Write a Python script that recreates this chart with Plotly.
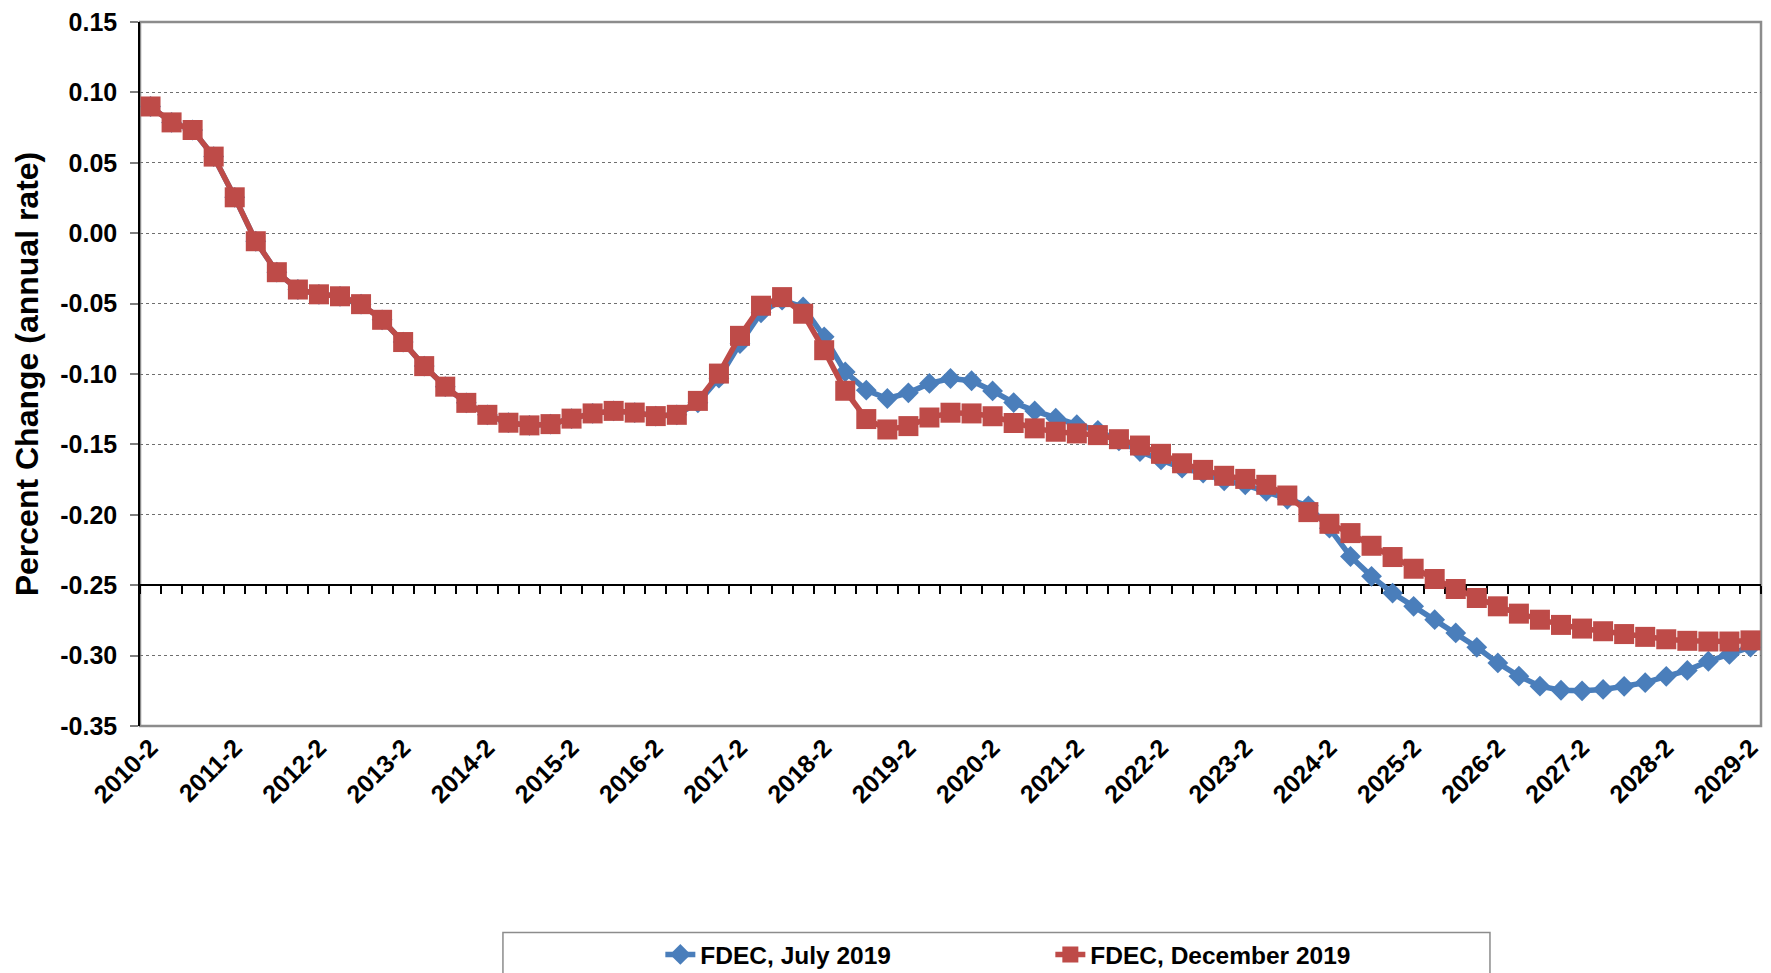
import plotly.graph_objects as go

# Quarterly categories 2010-2 ... 2029-2
quarters = [f"{y}-{q}" for y in range(2010, 2030) for q in range(1, 5)][1:78]
tick_labels = ["2010-2", "2011-2", "2012-2", "2013-2", "2014-2", "2015-2", "2016-2",
               "2017-2", "2018-2", "2019-2", "2020-2", "2021-2", "2022-2", "2023-2",
               "2024-2", "2025-2", "2026-2", "2027-2", "2028-2", "2029-2"]

fdec_dec_2019 = [
    0.0900, 0.0787, 0.0733, 0.0544, 0.0255, -0.0057, -0.0277, -0.0400, -0.0434, -0.0448,
    -0.0504, -0.0615, -0.0773, -0.0944, -0.1090, -0.1205, -0.1290, -0.1346, -0.1365, -0.1356,
    -0.1317, -0.1280, -0.1262, -0.1274, -0.1299, -0.1290, -0.1191, -0.0997, -0.0729, -0.0515,
    -0.0454, -0.0572, -0.0831, -0.1119, -0.1320, -0.1394, -0.1370, -0.1309, -0.1275, -0.1280,
    -0.1300, -0.1348, -0.1386, -0.1410, -0.1422, -0.1434, -0.1463, -0.1508, -0.1567, -0.1634,
    -0.1681, -0.1723, -0.1745, -0.1787, -0.1863, -0.1981, -0.2064, -0.2130, -0.2220, -0.2300,
    -0.2383, -0.2456, -0.2527, -0.2591, -0.2650, -0.2702, -0.2745, -0.2782, -0.2808, -0.2827,
    -0.2847, -0.2867, -0.2884, -0.2895, -0.2900, -0.2900, -0.2892,
]

fdec_jul_2019 = [
    0.0900, 0.0787, 0.0733, 0.0544, 0.0255, -0.0057, -0.0277, -0.0400, -0.0434, -0.0448,
    -0.0504, -0.0615, -0.0773, -0.0944, -0.1090, -0.1205, -0.1290, -0.1346, -0.1365, -0.1356,
    -0.1317, -0.1280, -0.1262, -0.1274, -0.1299, -0.1290, -0.1205, -0.1030, -0.0784, -0.0565,
    -0.0476, -0.0524, -0.0736, -0.0985, -0.1115, -0.1174, -0.1134, -0.1067, -0.1032, -0.1048,
    -0.1120, -0.1203, -0.1262, -0.1314, -0.1360, -0.1400, -0.1475, -0.1551, -0.1610, -0.1669,
    -0.1704, -0.1759, -0.1787, -0.1834, -0.1890, -0.1936, -0.2095, -0.2296, -0.2437, -0.2556,
    -0.2650, -0.2745, -0.2839, -0.2941, -0.3052, -0.3146, -0.3217, -0.3246, -0.3250, -0.3240,
    -0.3218, -0.3192, -0.3147, -0.3105, -0.3040, -0.2992, -0.2940,
]

y_ticks = [0.15, 0.10, 0.05, 0.00, -0.05, -0.10, -0.15, -0.20, -0.25, -0.30, -0.35]
y_tick_text = [f"{v:.2f}".replace("−", "-") for v in y_ticks]

BLUE = "#4A7EBB"
RED = "#BE4B48"
FONT = "Liberation Sans, Arial, sans-serif"

fig = go.Figure()
fig.add_trace(go.Scatter(
    x=quarters, y=fdec_jul_2019, name="FDEC, July 2019", mode="lines+markers",
    line=dict(color=BLUE, width=5.5),
    marker=dict(symbol="diamond", size=16, color=BLUE),
))
fig.add_trace(go.Scatter(
    x=quarters, y=fdec_dec_2019, name="FDEC, December 2019", mode="lines+markers",
    line=dict(color=RED, width=5.5),
    marker=dict(symbol="square", size=20, color=RED),
))
# helper trace carrying the crossing axis at -0.25
fig.add_trace(go.Scatter(
    x=quarters, y=[None] * len(quarters), xaxis="x2", yaxis="y",
    mode="lines", showlegend=False, hoverinfo="skip",
))

n = len(quarters)
fig.update_layout(
    width=1771, height=973,
    margin=dict(l=140, r=10, t=22, b=247, autoexpand=False),
    paper_bgcolor="white", plot_bgcolor="white",
    font=dict(family=FONT, size=25, color="black", weight="bold"),
    showlegend=True,
    xaxis=dict(
        type="category", range=[-0.5, n - 0.5], automargin=False,
        tickmode="array", tickvals=tick_labels, ticktext=tick_labels,
        tickangle=-45, ticks="", showgrid=False, showline=False, zeroline=False,
        tickfont=dict(family=FONT, size=25, color="black", weight="bold"),
        ticklabelstandoff=1,
    ),
    xaxis2=dict(
        type="category", overlaying="x", anchor="free", position=0.2,
        range=[-0.5, n - 0.5], automargin=False,
        showline=True, linecolor="black", linewidth=1.5,
        ticks="outside", ticklen=8, tickcolor="black", tickwidth=1.5,
        tickson="boundaries", tickmode="linear", tick0=0, dtick=1,
        showticklabels=False, showgrid=False, zeroline=False,
        layer="below traces",
    ),
    yaxis=dict(
        range=[-0.35, 0.15], automargin=False,
        tickmode="array", tickvals=y_ticks, ticktext=y_tick_text,
        ticks="outside", ticklen=8, tickcolor="#7f7f7f", tickwidth=1.5,
        showline=True, linecolor="black", linewidth=1.5,
        showgrid=True, gridcolor="#6f6f6f", gridwidth=1, griddash="dot",
        zeroline=False,
        tickfont=dict(family=FONT, size=25, color="black", weight="bold"),
        ticklabelstandoff=8,
        title=dict(text="Percent Change (annual rate)",
                   font=dict(family=FONT, size=32, color="black", weight="bold"),
                   standoff=12),
    ),
    legend=dict(
        orientation="h", x=0.321, y=-0.2926, xanchor="left", yanchor="top",
        entrywidth=345, bgcolor="rgba(0,0,0,0)", borderwidth=0,
        font=dict(family=FONT, size=24.5, color="black", weight="bold"),
    ),
    shapes=[
        dict(type="rect", xref="paper", yref="paper", x0=0, x1=1, y0=0, y1=1,
             line=dict(color="#8c8c8c", width=2.5), layer="below"),
        dict(type="rect", xref="paper", yref="paper", x0=0.2239, x1=0.8328,
             y0=-0.2933, y1=-0.40, line=dict(color="#8c8c8c", width=1.5),
             layer="below"),
    ],
)

fig.write_html(
    "out.html",
    config={"displayModeBar": False},
    post_script="document.body.style.margin='0';document.body.style.overflow='hidden';",
)
